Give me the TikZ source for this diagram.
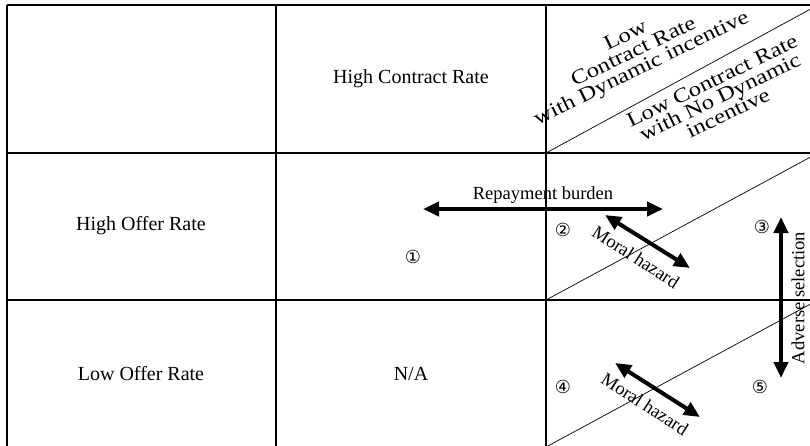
\documentclass[tikz,border=0pt]{standalone}
\usepackage{fontspec}
\setmainfont{Liberation Serif}
\newfontfamily\circfont{DejaVu Sans}
\newfontfamily\widefont[FakeStretch=1.2]{Liberation Serif}
\usetikzlibrary{arrows.meta}
\begin{document}
\begin{tikzpicture}[x=1pt,y=-1pt,
  grid/.style={line width=1.2pt},
  diag/.style={line width=0.7pt},
  lbl/.style={font=\fontsize{20}{24}\selectfont, inner sep=0pt},
  albl/.style={font=\fontsize{18.5}{22}\selectfont, inner sep=0pt},
  num/.style={font=\circfont\fontsize{18}{20}\selectfont, inner sep=0pt},
  hdr/.style={font=\widefont\fontsize{20.5}{18}\selectfont, align=center, inner sep=0pt, rotate=26},
  bigarrow/.style={line width=4pt, {Triangle[length=16pt,width=14pt]}-{Triangle[length=16pt,width=14pt]}}]
\useasboundingbox (0,0) rectangle (810,445);
\clip (0,0) rectangle (810,445);
% table grid
\draw[grid] (7,5) -- (830,5);
\draw[grid] (7,153) -- (830,153);
\draw[grid] (7,300) -- (830,300);
\draw[grid] (7,5) -- (7,460);
\draw[grid] (276,5) -- (276,460);
\draw[grid] (546,5) -- (546,460);
% diagonals
\draw[diag] (546,153) -- (818,5);
\draw[diag] (546,300) -- (818,153);
\draw[diag] (546,447) -- (818,300);
% labels
\node[lbl] (hcr) at (411,79) {High Contract Rate};
\node[lbl] (hor) at (141,226) {High Offer Rate};
\node[lbl] (lor) at (141,374) {Low Offer Rate};
\node[lbl] (na) at (411,374) {N/A};
\node[hdr] (hdA) at (634,53) {Low\\Contract Rate\\with Dynamic incentive};
\node[hdr] (hdB) at (720,97) {Low Contract Rate\\with No Dynamic\\incentive};
% numbers
\node[num] (n1) at (413,257) {①};
\node[num] (n2) at (563,230) {②};
\node[num] (n3) at (762,227) {③};
\node[num] (n4) at (563,387) {④};
\node[num] (n5) at (760,387) {⑤};
% arrows
\coordinate (rbL) at (423,209);
\coordinate (rbR) at (663,209);
\draw[bigarrow] (rbL) -- (rbR);
\node[albl] (rb) at (543,195) {Repayment burden};
\coordinate (mhA1) at (605,215);
\coordinate (mhA2) at (690,268);
\draw[bigarrow] (mhA1) -- (mhA2);
\node[albl, rotate=-33] (mhA) at (636,257) {Moral hazard};
\coordinate (mhB1) at (615,363);
\coordinate (mhB2) at (700,417);
\draw[bigarrow] (mhB1) -- (mhB2);
\node[albl, rotate=-33] (mhB) at (645,404) {Moral hazard};
\coordinate (asT) at (781,217);
\coordinate (asB) at (781,378);
\draw[bigarrow] (asT) -- (asB);
\node[albl, rotate=90] (as) at (798,298) {Adverse selection};
\end{tikzpicture}
\end{document}
